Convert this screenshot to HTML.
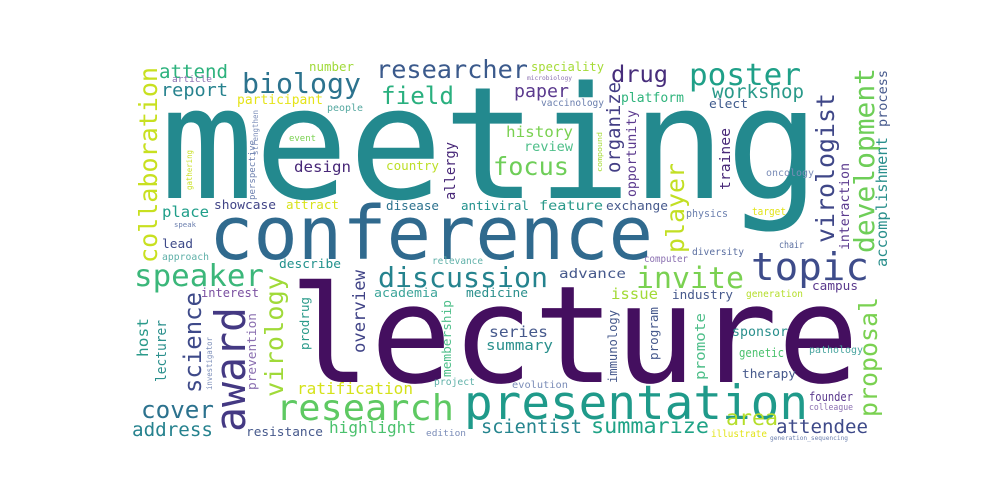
<!DOCTYPE html>
<html><head><meta charset="utf-8"><style>
html,body{margin:0;padding:0;background:#fff;width:1000px;height:500px;overflow:hidden}
svg text{font-family:"DejaVu Sans Mono","Liberation Mono",monospace}
</style></head><body>
<svg width="1000" height="500" viewBox="0 0 1000 500">
<rect width="1000" height="500" fill="#fff"/>
<!-- big words -->
<text x="160" y="198" font-size="156" textLength="660" lengthAdjust="spacingAndGlyphs" fill="#23898e">meeting</text>
<text x="289" y="382" font-size="135" textLength="570" lengthAdjust="spacingAndGlyphs" fill="#440f5f">lecture</text>
<text x="209" y="259" font-size="74" textLength="444" lengthAdjust="spacingAndGlyphs" fill="#306a8e">conference</text>
<text x="464" y="419" font-size="47" textLength="344" lengthAdjust="spacingAndGlyphs" fill="#1f9a8a">presentation</text>
<text x="751" y="280" font-size="38" textLength="118" lengthAdjust="spacingAndGlyphs" fill="#3e4c8a">topic</text>
<text x="276" y="420" font-size="36" textLength="178" lengthAdjust="spacingAndGlyphs" fill="#5ec962">research</text>
<text x="378" y="287" font-size="28" textLength="170" lengthAdjust="spacingAndGlyphs" fill="#25838e">discussion</text>
<text x="134" y="286" font-size="30" textLength="130" lengthAdjust="spacingAndGlyphs" fill="#3bb77a">speaker</text>
<text x="636" y="288" font-size="29" textLength="108" lengthAdjust="spacingAndGlyphs" fill="#7ad151">invite</text>
<text x="689" y="85" font-size="30" textLength="112" lengthAdjust="spacingAndGlyphs" fill="#1fa088">poster</text>
<text x="242" y="93" font-size="28" textLength="119" lengthAdjust="spacingAndGlyphs" fill="#2c738e">biology</text>
<text x="376" y="78" font-size="25" textLength="152" lengthAdjust="spacingAndGlyphs" fill="#3b5a8c">researcher</text>
<text x="381" y="104" font-size="24" textLength="73" lengthAdjust="spacingAndGlyphs" fill="#2ab07f">field</text>
<text x="611" y="82" font-size="23" textLength="57" lengthAdjust="spacingAndGlyphs" fill="#472d7b">drug</text>
<text x="493" y="175" font-size="25" textLength="76" lengthAdjust="spacingAndGlyphs" fill="#6ece58">focus</text>
<text x="141" y="418" font-size="24" textLength="73" lengthAdjust="spacingAndGlyphs" fill="#2c728e">cover</text>
<text x="132" y="436" font-size="19" textLength="81" lengthAdjust="spacingAndGlyphs" fill="#26828e">address</text>
<text x="297" y="394" font-size="16" textLength="116" lengthAdjust="spacingAndGlyphs" fill="#d5e21a">ratification</text>
<text x="246" y="436" font-size="12.5" textLength="77" lengthAdjust="spacingAndGlyphs" fill="#46598c">resistance</text>
<text x="329" y="433" font-size="16" textLength="87" lengthAdjust="spacingAndGlyphs" fill="#4ac16d">highlight</text>
<text x="481" y="433" font-size="18.5" textLength="101" lengthAdjust="spacingAndGlyphs" fill="#25858e">scientist</text>
<text x="591" y="433" font-size="21" textLength="118" lengthAdjust="spacingAndGlyphs" fill="#20a386">summarize</text>
<text x="726" y="425" font-size="21" textLength="52" lengthAdjust="spacingAndGlyphs" fill="#b5de2b">area</text>
<text x="776" y="433" font-size="19" textLength="92" lengthAdjust="spacingAndGlyphs" fill="#3e4a89">attendee</text>
<text x="711" y="437" font-size="10" textLength="56" lengthAdjust="spacingAndGlyphs" fill="#e2e418">illustrate</text>
<text x="770" y="440" font-size="6" textLength="78" lengthAdjust="spacingAndGlyphs" fill="#6b7fae">generation_sequencing</text>
<text x="426" y="436" font-size="9" textLength="40" lengthAdjust="spacingAndGlyphs" fill="#7b8db8">edition</text>
<!-- top-left small -->
<text x="159" y="78" font-size="19" textLength="69" lengthAdjust="spacingAndGlyphs" fill="#2db27d">attend</text>
<text x="161" y="96" font-size="18" textLength="67" lengthAdjust="spacingAndGlyphs" fill="#26828e">report</text>
<text x="309" y="71" font-size="12" textLength="45" lengthAdjust="spacingAndGlyphs" fill="#a0da39">number</text>
<text x="172" y="82" font-size="9" textLength="40" lengthAdjust="spacingAndGlyphs" fill="#8a6fb0">article</text>
<text x="237" y="104" font-size="13" textLength="86" lengthAdjust="spacingAndGlyphs" fill="#e5e419">participant</text>
<text x="327" y="111" font-size="9.5" textLength="36" lengthAdjust="spacingAndGlyphs" fill="#55a8a0">people</text>
<text x="289" y="141" font-size="8.5" textLength="27" lengthAdjust="spacingAndGlyphs" fill="#7ad151">event</text>
<text x="294" y="172" font-size="15" textLength="57" lengthAdjust="spacingAndGlyphs" fill="#482878">design</text>
<text x="386" y="170" font-size="12" textLength="53" lengthAdjust="spacingAndGlyphs" fill="#bddf26">country</text>
<text x="214" y="209" font-size="12.5" textLength="62" lengthAdjust="spacingAndGlyphs" fill="#414487">showcase</text>
<text x="286" y="209" font-size="12" textLength="53" lengthAdjust="spacingAndGlyphs" fill="#d8e219">attract</text>
<text x="386" y="210" font-size="12" textLength="53" lengthAdjust="spacingAndGlyphs" fill="#2c728e">disease</text>
<text x="461" y="210" font-size="12" textLength="68" lengthAdjust="spacingAndGlyphs" fill="#21918c">antiviral</text>
<text x="539" y="210" font-size="13" textLength="64" lengthAdjust="spacingAndGlyphs" fill="#2a9a8a">feature</text>
<text x="162" y="217" font-size="15" textLength="47" lengthAdjust="spacingAndGlyphs" fill="#1f9e89">place</text>
<text x="162" y="248" font-size="12" textLength="31" lengthAdjust="spacingAndGlyphs" fill="#3e4a89">lead</text>
<text x="162" y="260" font-size="9.5" textLength="47" lengthAdjust="spacingAndGlyphs" fill="#5fb0a8">approach</text>
<text x="174" y="227" font-size="7" textLength="22" lengthAdjust="spacingAndGlyphs" fill="#6b7fae">speak</text>
<text x="279" y="268" font-size="12.5" textLength="62" lengthAdjust="spacingAndGlyphs" fill="#21918c">describe</text>
<text x="432" y="264" font-size="9.5" textLength="51" lengthAdjust="spacingAndGlyphs" fill="#5fb0a8">relevance</text>
<text x="201" y="297" font-size="12" textLength="58" lengthAdjust="spacingAndGlyphs" fill="#7a4fa0">interest</text>
<text x="374" y="297" font-size="12.5" textLength="64" lengthAdjust="spacingAndGlyphs" fill="#3da59a">academia</text>
<text x="466" y="297" font-size="12.5" textLength="62" lengthAdjust="spacingAndGlyphs" fill="#2a8f8c">medicine</text>
<text x="434" y="385" font-size="9.5" textLength="41" lengthAdjust="spacingAndGlyphs" fill="#5fb0a8">project</text>
<!-- top-right small -->
<text x="531" y="71" font-size="12" textLength="73" lengthAdjust="spacingAndGlyphs" fill="#a5db36">speciality</text>
<text x="527" y="80" font-size="6" textLength="45" lengthAdjust="spacingAndGlyphs" fill="#8a6fb0">microbiology</text>
<text x="514" y="97" font-size="17.5" textLength="55" lengthAdjust="spacingAndGlyphs" fill="#5b3a8e">paper</text>
<text x="621" y="102" font-size="13" textLength="63" lengthAdjust="spacingAndGlyphs" fill="#2fb47c">platform</text>
<text x="712" y="98" font-size="19" textLength="92" lengthAdjust="spacingAndGlyphs" fill="#2a9a8a">workshop</text>
<text x="709" y="108" font-size="12.5" textLength="39" lengthAdjust="spacingAndGlyphs" fill="#3e5a8c">elect</text>
<text x="541" y="106" font-size="9.5" textLength="63" lengthAdjust="spacingAndGlyphs" fill="#6b7fae">vaccinology</text>
<text x="506" y="137" font-size="15.5" textLength="67" lengthAdjust="spacingAndGlyphs" fill="#7ad151">history</text>
<text x="524" y="151" font-size="13" textLength="49" lengthAdjust="spacingAndGlyphs" fill="#4fbf8a">review</text>
<text x="606" y="210" font-size="12.5" textLength="62" lengthAdjust="spacingAndGlyphs" fill="#46598c">exchange</text>
<text x="686" y="217" font-size="11" textLength="42" lengthAdjust="spacingAndGlyphs" fill="#6b7fae">physics</text>
<text x="752" y="215" font-size="10.5" textLength="34" lengthAdjust="spacingAndGlyphs" fill="#e2e418">target</text>
<text x="692" y="255" font-size="10" textLength="52" lengthAdjust="spacingAndGlyphs" fill="#5a6ea0">diversity</text>
<text x="644" y="262" font-size="10" textLength="44" lengthAdjust="spacingAndGlyphs" fill="#8a6fb0">computer</text>
<text x="779" y="248" font-size="10" textLength="25" lengthAdjust="spacingAndGlyphs" fill="#5a6ea0">chair</text>
<text x="766" y="176" font-size="10" textLength="48" lengthAdjust="spacingAndGlyphs" fill="#7b8db8">oncology</text>
<!-- bottom-right small -->
<text x="559" y="278" font-size="13.5" textLength="67" lengthAdjust="spacingAndGlyphs" fill="#46598c">advance</text>
<text x="611" y="299" font-size="15" textLength="47" lengthAdjust="spacingAndGlyphs" fill="#a2da37">issue</text>
<text x="672" y="299" font-size="12.5" textLength="61" lengthAdjust="spacingAndGlyphs" fill="#46598c">industry</text>
<text x="812" y="290" font-size="12" textLength="46" lengthAdjust="spacingAndGlyphs" fill="#5b3a8e">campus</text>
<text x="746" y="297" font-size="9.5" textLength="57" lengthAdjust="spacingAndGlyphs" fill="#b5de2b">generation</text>
<text x="489" y="337" font-size="15" textLength="59" lengthAdjust="spacingAndGlyphs" fill="#46598c">series</text>
<text x="486" y="350" font-size="14.5" textLength="67" lengthAdjust="spacingAndGlyphs" fill="#2a8f8c">summary</text>
<text x="732" y="336" font-size="13" textLength="56" lengthAdjust="spacingAndGlyphs" fill="#2a8f8c">sponsor</text>
<text x="739" y="357" font-size="12.5" textLength="45" lengthAdjust="spacingAndGlyphs" fill="#4ac16d">genetic</text>
<text x="809" y="353" font-size="10" textLength="54" lengthAdjust="spacingAndGlyphs" fill="#4aa5a0">pathology</text>
<text x="742" y="378" font-size="12.5" textLength="54" lengthAdjust="spacingAndGlyphs" fill="#46598c">therapy</text>
<text x="809" y="401" font-size="12" textLength="44" lengthAdjust="spacingAndGlyphs" fill="#5b3a8e">founder</text>
<text x="809" y="410" font-size="9" textLength="44" lengthAdjust="spacingAndGlyphs" fill="#8a6fb0">colleague</text>
<text x="512" y="388" font-size="10" textLength="56" lengthAdjust="spacingAndGlyphs" fill="#7b8db8">evolution</text>
<!-- vertical words -->
<text transform="translate(157,263) rotate(-90)" font-size="25" textLength="196" lengthAdjust="spacingAndGlyphs" fill="#c8e020">collaboration</text>
<text transform="translate(455,200) rotate(-90)" font-size="14" textLength="58" lengthAdjust="spacingAndGlyphs" fill="#482878">allergy</text>
<text transform="translate(620,173) rotate(-90)" font-size="19" textLength="91" lengthAdjust="spacingAndGlyphs" fill="#433e85">organize</text>
<text transform="translate(636,197) rotate(-90)" font-size="13" textLength="87" lengthAdjust="spacingAndGlyphs" fill="#5b3a8e">opportunity</text>
<text transform="translate(684,253) rotate(-90)" font-size="25" textLength="90" lengthAdjust="spacingAndGlyphs" fill="#c2df23">player</text>
<text transform="translate(730,190) rotate(-90)" font-size="14.5" textLength="62" lengthAdjust="spacingAndGlyphs" fill="#482878">trainee</text>
<text transform="translate(834,243) rotate(-90)" font-size="25" textLength="150" lengthAdjust="spacingAndGlyphs" fill="#3f4788">virologist</text>
<text transform="translate(874,253) rotate(-90)" font-size="28" textLength="185" lengthAdjust="spacingAndGlyphs" fill="#6ece58">development</text>
<text transform="translate(887,127) rotate(-90)" font-size="13.5" textLength="57" lengthAdjust="spacingAndGlyphs" fill="#46598c">process</text>
<text transform="translate(887,267) rotate(-90)" font-size="15" textLength="130" lengthAdjust="spacingAndGlyphs" fill="#2a8f8c">accomplishment</text>
<text transform="translate(849,250) rotate(-90)" font-size="13" textLength="87" lengthAdjust="spacingAndGlyphs" fill="#5b3a8e">interaction</text>
<text transform="translate(201,393) rotate(-90)" font-size="24" textLength="101" lengthAdjust="spacingAndGlyphs" fill="#3e4a89">science</text>
<text transform="translate(245,432) rotate(-90)" font-size="42" textLength="125" lengthAdjust="spacingAndGlyphs" fill="#443983">award</text>
<text transform="translate(283,397) rotate(-90)" font-size="25" textLength="122" lengthAdjust="spacingAndGlyphs" fill="#a0da39">virology</text>
<text transform="translate(365,353) rotate(-90)" font-size="17" textLength="83" lengthAdjust="spacingAndGlyphs" fill="#414487">overview</text>
<text transform="translate(309,350) rotate(-90)" font-size="12.5" textLength="53" lengthAdjust="spacingAndGlyphs" fill="#2a9a8a">prodrug</text>
<text transform="translate(256,390) rotate(-90)" font-size="12.5" textLength="77" lengthAdjust="spacingAndGlyphs" fill="#8a6fb0">prevention</text>
<text transform="translate(212,390) rotate(-90)" font-size="8" textLength="53" lengthAdjust="spacingAndGlyphs" fill="#7b8db8">investigator</text>
<text transform="translate(166,382) rotate(-90)" font-size="14" textLength="62" lengthAdjust="spacingAndGlyphs" fill="#2a8f8c">lecturer</text>
<text transform="translate(148,357) rotate(-90)" font-size="15" textLength="39" lengthAdjust="spacingAndGlyphs" fill="#2a9a8a">host</text>
<text transform="translate(451,377) rotate(-90)" font-size="12.5" textLength="77" lengthAdjust="spacingAndGlyphs" fill="#4fbf8a">membership</text>
<text transform="translate(877,417) rotate(-90)" font-size="25" textLength="120" lengthAdjust="spacingAndGlyphs" fill="#7ad151">proposal</text>
<text transform="translate(705,380) rotate(-90)" font-size="14.5" textLength="67" lengthAdjust="spacingAndGlyphs" fill="#4fbf8a">promote</text>
<text transform="translate(658,360) rotate(-90)" font-size="12.5" textLength="53" lengthAdjust="spacingAndGlyphs" fill="#46598c">program</text>
<text transform="translate(617,383) rotate(-90)" font-size="12" textLength="73" lengthAdjust="spacingAndGlyphs" fill="#46598c">immunology</text>
<text transform="translate(255,200) rotate(-90)" font-size="9" textLength="60" lengthAdjust="spacingAndGlyphs" fill="#6b7fae">perspective</text>
<text transform="translate(258,155) rotate(-90)" font-size="8" textLength="45" lengthAdjust="spacingAndGlyphs" fill="#7b8db8">strengthen</text>
<text transform="translate(192,190) rotate(-90)" font-size="8" textLength="40" lengthAdjust="spacingAndGlyphs" fill="#c8e020">gathering</text>
<text transform="translate(602,172) rotate(-90)" font-size="7" textLength="40" lengthAdjust="spacingAndGlyphs" fill="#a5db36">compound</text>
</svg>
</body></html>
